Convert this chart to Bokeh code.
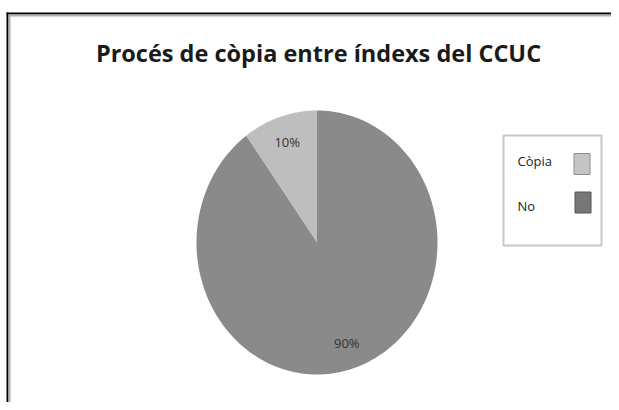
import math
from bokeh.plotting import figure
from bokeh.models import Label
from bokeh.core.properties import value
from bokeh.embed import file_html
from bokeh.resources import INLINE

# ---- data ----
categories = ["Còpia", "No"]
shares = [10, 90]
slice_colors = ["#BEBEBE", "#8A8A8A"]
swatch_colors = ["#C4C4C4", "#767676"]
swatch_lines = ["#8E8E8E", "#555555"]
title_text = "Procés de còpia entre índexs del CCUC"

W, H = 611, 402
p = figure(width=W, height=H, output_backend="svg", toolbar_location=None,
           x_range=(0, W), y_range=(0, H), min_border=0,
           background_fill_color="white", border_fill_color="white")
p.axis.visible = False
p.grid.visible = False
p.outline_line_color = None

# ---- frame lines (top and left of the chart area) ----
p.segment(x0=[6, 8], y0=[H - 13, H - 15], x1=[W, W], y1=[H - 13, H - 15],
          line_color=["#000000", "#B0B0B0"], line_width=2)
p.segment(x0=[7, 9], y0=[0, 0], x1=[7, 9], y1=[H - 12, H - 14],
          line_color=["#000000", "#B0B0B0"], line_width=2)

# ---- pie (slightly elliptical, as in the reference) ----
cx, cy, rx, ry = 316.5, H - 242, 120.5, 132
total = float(sum(shares))
xs, ys, lx, ly, labels = [], [], [], [], []
start = math.pi / 2
for s in shares:
    sweep = 2 * math.pi * s / total
    n = max(8, int(200 * s / total))
    angs = [start + sweep * i / n for i in range(n + 1)]
    xs.append([cx] + [cx + rx * math.cos(a) for a in angs])
    ys.append([cy] + [cy + ry * math.sin(a) for a in angs])
    mid = start + sweep / 2
    lx.append(cx + 0.8 * rx * math.cos(mid))
    ly.append(cy + 0.8 * ry * math.sin(mid))
    labels.append(f"{s}%")
    start += sweep

p.patches(xs=xs, ys=ys, fill_color=slice_colors, line_color=None)
p.text(x=lx, y=ly, text=labels, text_align="center", text_baseline="middle",
       text_font=value("Open Sans"), text_font_size="13px", text_color="#333333")

# ---- title ----
p.add_layout(Label(x=318, y=H - 52, text=title_text, text_align="center",
                   text_baseline="middle", text_font="Open Sans",
                   text_font_style="bold", text_font_size="23.5px",
                   text_color="#1A1A1A"))

# ---- legend (text left, swatch right) ----
p.rect(x=[552], y=[H - 190], width=98, height=110, fill_color="white",
       line_color="#C8C8C8", line_width=2)
row_y = [H - 163.5, H - 202]
p.text(x=[517, 517], y=[H - 160, H - 205], text=categories,
       text_align="left", text_baseline="middle",
       text_font=value("Open Sans"), text_font_size="13px", text_color="#222222")
p.rect(x=[581.5, 582.5], y=row_y, width=16, height=21,
       fill_color=swatch_colors, line_color=swatch_lines, line_width=1)

open("out.html", "w").write(file_html(p, INLINE))
